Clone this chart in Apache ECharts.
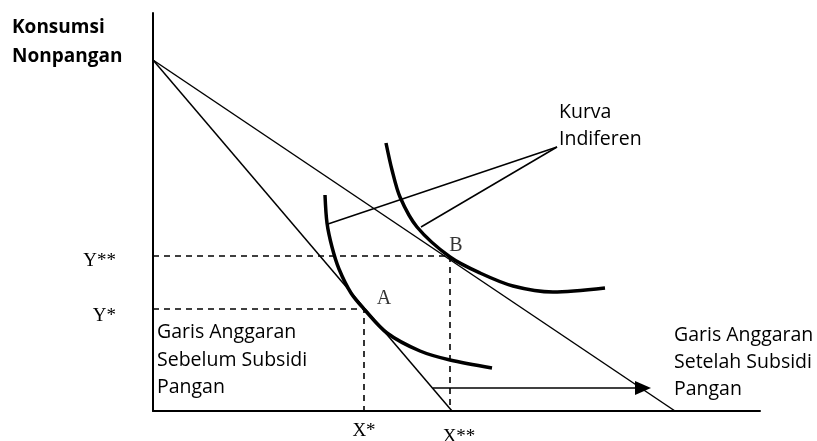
<!DOCTYPE html>
<html lang="id">
<head>
  <meta charset="UTF-8">
  <title>Subsidi Pangan - Kurva Indiferen</title>
  <style>
    * { margin: 0; padding: 0; }
    body { background: #ffffff; }
    #chart { width: 817px; height: 441px; }
  </style>
</head>
<body>
  <div id="chart"></div>
  <script src="https://cdn.jsdelivr.net/npm/echarts@6/dist/echarts.min.js"></script>
  <script type="text/javascript">
  // axis units (origin at the corner of the axes)
  var xMax = 607;
  var yMax = 398;

  // budget lines: [x, y] end points
  var budgetBefore = [[0, 351], [299, 0]];
  var budgetAfter = [[0, 351], [522, 0]];

  // indifference curves, points
  var curveA = [[172, 216], [174, 188], [179, 164], [186, 142], [198, 118], [211, 102],
                [234, 78], [267, 60], [297, 51], [339, 43]];
  var curveB = [[233, 268], [239, 241], [247, 214], [264, 184], [297, 154], [327, 138],
                [360, 125], [400, 119], [452, 123]];

  // equilibrium points and their ticks
  var pointA = [211, 102];
  var pointB = [297, 154];
  var xTicks = [211, 297];
  var xTickLabels = ['X*', 'X**'];
  var yTicks = [102, 155];
  var yTickLabels = ['Y*', 'Y**'];

  // shift arrow and label pointer
  var shiftArrow = [[280, 23], [490, 23]];
  var pointerFrom = [404, 264];
  var pointerTo = [[175, 187], [268, 184]];

  var sans = '"Open Sans", "Liberation Sans", sans-serif';
  var serif = '"Liberation Serif", "DejaVu Serif", serif';

  function main () {
    var chart = echarts.init(document.getElementById('chart'));

    var plain = { type: 'line', symbol: 'none', silent: true, z: 3 };
    var dashed = { color: '#000', width: 1.6, type: [6, 5] };

    var series = [
      Object.assign({}, plain, { data: budgetBefore, lineStyle: { color: '#000', width: 1.5 } }),
      Object.assign({}, plain, { data: budgetAfter, lineStyle: { color: '#000', width: 1.5 } }),
      Object.assign({}, plain, { data: curveA, smooth: 0.3, lineStyle: { color: '#000', width: 3.5 } }),
      Object.assign({}, plain, { data: curveB, smooth: 0.3, lineStyle: { color: '#000', width: 3.5 } }),
      Object.assign({}, plain, { data: [[0, yTicks[0]], pointA, [xTicks[0], 0]], lineStyle: dashed }),
      Object.assign({}, plain, { data: [[0, yTicks[1]], [xTicks[1], yTicks[1]], [xTicks[1], 0]], lineStyle: dashed }),
      Object.assign({}, plain, { data: [pointerFrom, pointerTo[0]], lineStyle: { color: '#000', width: 1.5 } }),
      Object.assign({}, plain, { data: [pointerFrom, pointerTo[1]], lineStyle: { color: '#000', width: 1.5 } }),
      {
        type: 'line', data: [], silent: true,
        markLine: {
          silent: true, animation: false,
          symbol: ['none', 'triangle'], symbolSize: [14, 16],
          label: { show: false },
          lineStyle: { color: '#000', width: 1.5, type: 'solid' },
          data: [[{ coord: shiftArrow[0] }, { coord: shiftArrow[1] }]]
        }
      },
      {
        type: 'scatter', symbolSize: 0, silent: true,
        data: [
          { value: pointA, label: { formatter: 'A', offset: [20, -10] } },
          { value: pointB, label: { formatter: 'B', offset: [6, -11] } }
        ],
        label: { show: true, position: 'inside', color: '#000', fontFamily: serif, fontSize: 20 }
      }
    ];

    var option = {
      animation: false,
      grid: { left: 153, right: 57, top: 13, bottom: 30, outerBoundsMode: 'none', containLabel: false },
      xAxis: {
        type: 'value', min: 0, max: xMax,
        splitLine: { show: false },
        axisTick: { show: false },
        axisLine: { lineStyle: { color: '#000', width: 2 } },
        axisLabel: {
          customValues: xTicks,
          margin: 11,
          color: '#000', fontFamily: serif, fontSize: 19,
          formatter: function (v) {
            var name = xTickLabels[xTicks.indexOf(v)];
            return v === xTicks[1] ? '{b|' + name + '}' : name;
          },
          rich: { b: { fontFamily: serif, fontSize: 19, color: '#000', padding: [6, 0, 0, 18] } }
        }
      },
      yAxis: {
        type: 'value', min: 0, max: yMax,
        splitLine: { show: false },
        axisTick: { show: false },
        axisLine: { onZero: false, lineStyle: { color: '#000', width: 2 } },
        axisLabel: {
          customValues: yTicks,
          margin: 37,
          color: '#000', fontFamily: serif, fontSize: 19,
          formatter: function (v) {
            var name = yTickLabels[yTicks.indexOf(v)];
            return v === yTicks[0] ? '{s|' + name + '}' : '{d|' + name + '}';
          },
          rich: {
            s: { fontFamily: serif, fontSize: 19, color: '#000', padding: [15, 0, 0, 0] },
            d: { fontFamily: serif, fontSize: 19, color: '#000', padding: [11, 0, 0, 0] }
          }
        }
      },
      graphic: [
        { type: 'text', left: 12, top: 13, style: { text: 'Konsumsi\nNonpangan', font: 'bold 19px ' + sans, lineHeight: 29, fill: '#000' } },
        { type: 'text', left: 559, top: 99, style: { text: 'Kurva\nIndiferen', font: '19.5px ' + sans, lineHeight: 27, fill: '#000' } },
        { type: 'text', left: 157, top: 319, style: { text: 'Garis Anggaran\nSebelum Subsidi\nPangan', font: '19.5px ' + sans, lineHeight: 27.5, fill: '#000' } },
        { type: 'text', left: 674, top: 322, style: { text: 'Garis Anggaran\nSetelah Subsidi\nPangan', font: '19.5px ' + sans, lineHeight: 27, fill: '#000' } }
      ],
      series: series
    };
    chart.setOption(option);
  }

  window.addEventListener('load', main);
  </script>
</body>
</html>
